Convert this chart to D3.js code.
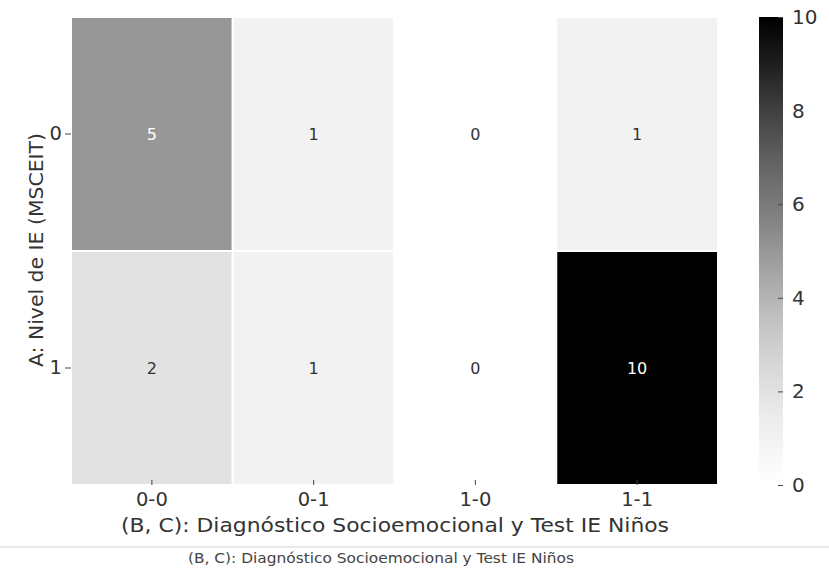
<!DOCTYPE html>
<html><head><meta charset="utf-8">
<script src="https://cdn.jsdelivr.net/npm/d3@7"></script>
<style>body{margin:0;background:#fff;} svg{display:block;font-family:"DejaVu Sans",sans-serif;}</style>
</head><body><svg id="c" width="829" height="572"></svg>
<script>
const rows = ["0", "1"];
const cols = ["0-0", "0-1", "1-0", "1-1"];
const values = [
  [5, 1, 0, 1],
  [2, 1, 0, 10]
];
const cbarTicks = [0, 2, 4, 6, 8, 10];
const xTitle = "(B, C): Diagnóstico Socioemocional y Test IE Niños";
const yTitle = "A: Nivel de IE (MSCEIT)";
const caption = "(B, C): Diagnóstico Socioemocional y Test IE Niños";

const svg = d3.select("#c");
const L = 71, R = 718, T = 17, B = 485;
const x = d3.scaleBand().domain(cols).range([L, R]);
const y = d3.scaleBand().domain(rows).range([T, B]);
const color = d3.scaleSequential(d3.interpolateGreys).domain([0, 10]);
const txt = "#333";

const cells = [];
rows.forEach((r, i) => cols.forEach((c, j) => cells.push({r, c, v: values[i][j]})));

svg.append("g").selectAll("rect").data(cells).join("rect")
  .attr("x", d => x(d.c)).attr("y", d => y(d.r))
  .attr("width", x.bandwidth()).attr("height", y.bandwidth())
  .attr("fill", d => color(d.v))
  .attr("stroke", "#fff").attr("stroke-width", 2);

svg.append("g").selectAll("text").data(cells).join("text")
  .attr("x", d => x(d.c) + x.bandwidth() / 2)
  .attr("y", d => y(d.r) + y.bandwidth() / 2)
  .attr("text-anchor", "middle").attr("dominant-baseline", "central")
  .attr("font-size", 16)
  .attr("fill", d => d.v >= 5 ? "#ffffff" : "#333")
  .text(d => d.v);

// axes
const xAxis = svg.append("g").attr("transform", `translate(0,${B})`)
  .call(d3.axisBottom(x).tickSize(5).tickPadding(2));
xAxis.select(".domain").remove();
xAxis.selectAll("line").attr("stroke", "#444").attr("transform", "translate(0,-5)");
xAxis.selectAll("text").attr("font-size", 19.5).attr("fill", txt)
  .attr("font-family", "DejaVu Sans");

const yAxis = svg.append("g").attr("transform", `translate(${L},0)`)
  .call(d3.axisLeft(y).tickSize(6).tickPadding(3));
yAxis.select(".domain").remove();
yAxis.selectAll("line").attr("stroke", "#444");
yAxis.selectAll("text").attr("font-size", 19.5).attr("fill", txt)
  .attr("font-family", "DejaVu Sans");

svg.append("text").attr("x", 395).attr("y", 525)
  .attr("text-anchor", "middle").attr("dominant-baseline", "central")
  .attr("font-size", 19.5).attr("fill", txt)
  .attr("textLength", 548).attr("lengthAdjust", "spacingAndGlyphs")
  .text(xTitle);

svg.append("text").attr("transform", `translate(36,${250}) rotate(-90)`)
  .attr("text-anchor", "middle").attr("dominant-baseline", "central")
  .attr("font-size", 19.5).attr("fill", txt)
  .attr("textLength", 234).attr("lengthAdjust", "spacingAndGlyphs")
  .text(yTitle);

// colorbar
const cbX = 759, cbW = 24;
const cy = d3.scaleLinear().domain([0, 10]).range([B, T]);
const defs = svg.append("defs");
const grad = defs.append("linearGradient").attr("id", "g").attr("x1", 0).attr("y1", 1).attr("x2", 0).attr("y2", 0);
d3.range(0, 10.01, 0.5).forEach(v => grad.append("stop").attr("offset", v / 10).attr("stop-color", color(v)));
svg.append("rect").attr("x", cbX).attr("y", T).attr("width", cbW).attr("height", B - T)
  .attr("fill", "url(#g)");
const cAxis = svg.append("g").attr("transform", `translate(${cbX + cbW},0)`)
  .call(d3.axisRight(cy).tickValues(cbarTicks).tickSize(5).tickPadding(4));
cAxis.select(".domain").remove();
cAxis.selectAll("line").attr("stroke", "#444").attr("transform", "translate(-5,0)");
cAxis.selectAll("text").attr("font-size", 20).attr("fill", txt).attr("font-family", "DejaVu Sans");

// caption area
svg.append("line").attr("x1", 0).attr("x2", 829).attr("y1", 547).attr("y2", 547)
  .attr("stroke", "#e8e8e8").attr("stroke-width", 2);
svg.append("text").attr("x", 381).attr("y", 558).attr("text-anchor", "middle")
  .attr("dominant-baseline", "central")
  .attr("font-size", 14).attr("fill", "#444")
  .attr("textLength", 386).attr("lengthAdjust", "spacingAndGlyphs")
  .text(caption);
</script></body></html>
